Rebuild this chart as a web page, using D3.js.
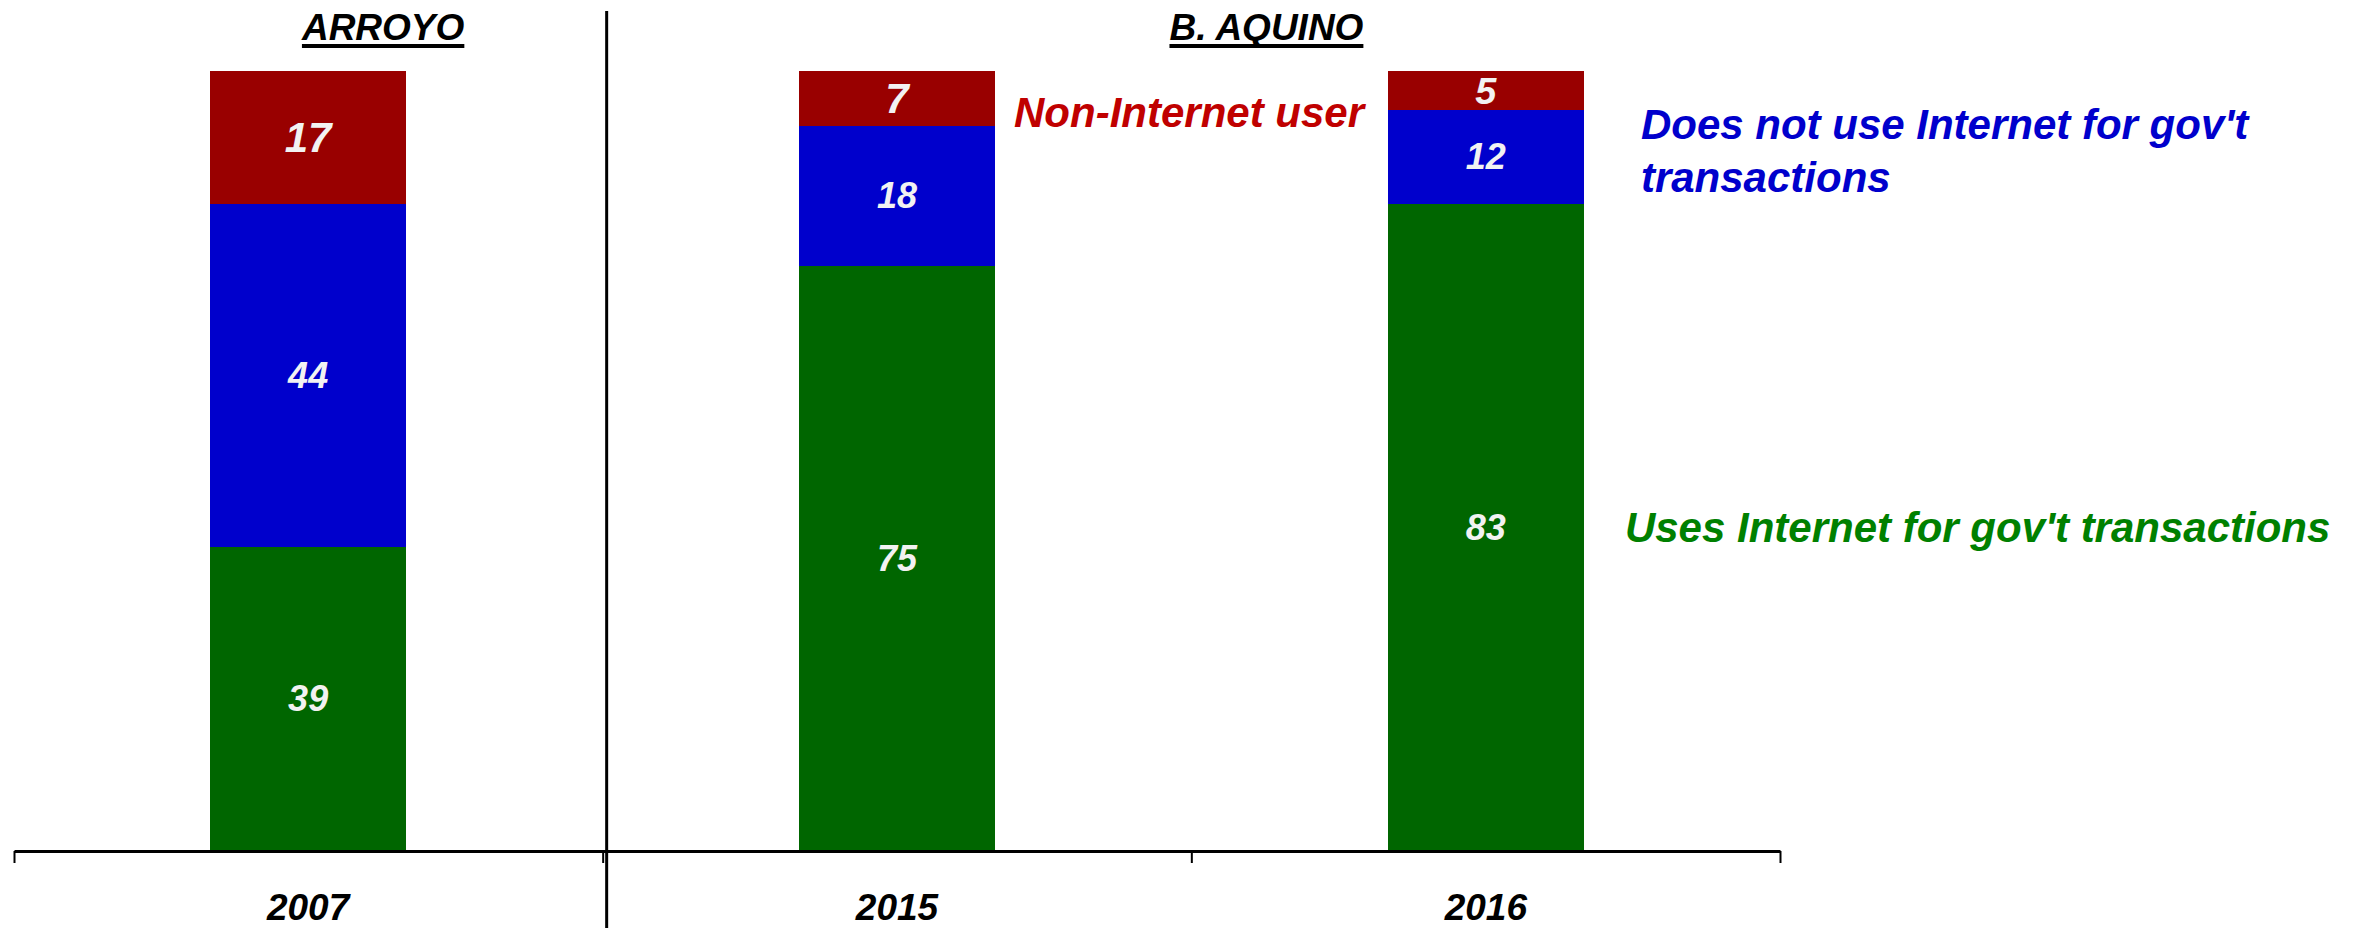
<!DOCTYPE html>
<html>
<head>
<meta charset="utf-8">
<script src="https://cdn.jsdelivr.net/npm/d3@7"></script>
<style>
  html, body { margin: 0; padding: 0; background: #fff; }
  svg text { font-family: "Liberation Sans", Arial, sans-serif; font-weight: bold; font-style: italic; }
</style>
</head>
<body>
<div id="chart"></div>
<script>
const years = ["2007", "2015", "2016"];
const presidentOf = ["ARROYO", "B. AQUINO", "B. AQUINO"];
const govUse = [39, 75, 83];
const noGovUse = [44, 18, 12];
const nonUser = [17, 7, 5];

const seriesKeys = ["govUse", "noGovUse", "nonUser"];
const seriesLabels = ["Uses Internet for gov't transactions", "Does not use Internet for gov't|transactions", "Non-Internet user"];
const barColors = ["#006600", "#0000CC", "#990000"];
const textColors = ["#008000", "#0000CC", "#C00000"];

const width = 2369;
const height = 928;

const rows = years.map((y, i) => ({
  year: y,
  president: presidentOf[i],
  govUse: govUse[i],
  noGovUse: noGovUse[i],
  nonUser: nonUser[i]
}));

const svg = d3.select("#chart")
  .append("svg")
  .attr("width", width)
  .attr("height", height);

const x = d3.scaleBand()
  .domain(years)
  .range([14, 1780])
  .paddingInner(0.667)
  .paddingOuter(0.333);

const y = d3.scaleLinear()
  .domain([0, 100])
  .range([851, 71]);

const stack = d3.stack().keys(seriesKeys)(rows);

// bars
const layer = svg.selectAll(".layer")
  .data(stack)
  .enter()
  .append("g")
  .attr("class", "layer")
  .attr("fill", (d, i) => barColors[i]);

layer.selectAll("rect")
  .data(d => d)
  .enter()
  .append("rect")
  .attr("x", d => x(d.data.year))
  .attr("y", d => y(d[1]))
  .attr("width", x.bandwidth())
  .attr("height", d => y(d[0]) - y(d[1]))
  .attr("shape-rendering", "crispEdges");

// value labels (top segment a bit larger, shrunk to fit thin segments)
layer.selectAll("text")
  .data(d => d.map(p => ({ p, key: d.key })))
  .enter()
  .append("text")
  .attr("x", d => x(d.p.data.year) + x.bandwidth() / 2)
  .attr("y", d => (y(d.p[0]) + y(d.p[1])) / 2)
  .attr("text-anchor", "middle")
  .attr("dominant-baseline", "central")
  .attr("fill", "#F2F2F2")
  .style("font-size", d => {
    if (d.key !== "nonUser") return "36px";
    const h = y(d.p[0]) - y(d.p[1]);
    return Math.min(42, h * 0.97) + "px";
  })
  .text(d => d.p.data[d.key]);

// x axis: ticks at category boundaries
const edge = d3.scaleLinear().domain([0, years.length]).range(x.range());
const axis = svg.append("g")
  .attr("transform", `translate(0,${y(0)})`)
  .call(d3.axisBottom(edge).tickValues(d3.range(years.length + 1)).tickSize(12).tickSizeOuter(0).tickFormat(""));
axis.select(".domain").attr("stroke", "#000").attr("stroke-width", 3);
axis.selectAll(".tick line").attr("stroke", "#000").attr("stroke-width", 2);

svg.selectAll(".year")
  .data(years)
  .enter()
  .append("text")
  .attr("class", "year")
  .attr("x", d => x(d) + x.bandwidth() / 2)
  .attr("y", 920)
  .attr("text-anchor", "middle")
  .attr("fill", "#000")
  .style("font-size", "37px")
  .text(d => d);

// divider between administrations
const divX = edge(presidentOf.indexOf("B. AQUINO")) + 4;
svg.append("line")
  .attr("x1", divX).attr("x2", divX)
  .attr("y1", 11).attr("y2", height)
  .attr("stroke", "#000")
  .attr("stroke-width", 3);

// administration titles
const presidents = Array.from(new Set(presidentOf));
presidents.forEach(p => {
  const ys = years.filter((yr, i) => presidentOf[i] === p);
  const cx = d3.mean(ys, yr => x(yr) + x.bandwidth() / 2) + 75;
  const t = svg.append("text")
    .attr("x", cx)
    .attr("y", 40)
    .attr("text-anchor", "middle")
    .attr("fill", "#000")
    .style("font-size", "37px")
    .text(p);
  const w = t.node().getComputedTextLength();
  svg.append("rect")
    .attr("x", cx - w / 2)
    .attr("y", 44)
    .attr("width", w)
    .attr("height", 4)
    .attr("fill", "#000");
});

// series labels
const last = years[years.length - 1];
const mid = years[1];
// Non-Internet user, beside the 2015 bar
svg.append("text")
  .attr("x", x(mid) + x.bandwidth() + 19)
  .attr("y", y(100) + 56)
  .attr("fill", textColors[2])
  .style("font-size", "42px")
  .text(seriesLabels[2]);

// Does not use..., beside the 2016 bar
const blueText = svg.append("text")
  .attr("x", x(last) + x.bandwidth() + 57)
  .attr("y", 139)
  .attr("fill", textColors[1])
  .style("font-size", "42px");
seriesLabels[1].split("|").forEach((line, i) => {
  blueText.append("tspan")
    .attr("x", x(last) + x.bandwidth() + 57)
    .attr("dy", i === 0 ? 0 : 53)
    .text(line);
});

// Uses Internet..., beside the 2016 green segment
const lastRow = rows[rows.length - 1];
svg.append("text")
  .attr("x", x(last) + x.bandwidth() + 41)
  .attr("y", (y(0) + y(lastRow.govUse)) / 2)
  .attr("dominant-baseline", "central")
  .attr("fill", textColors[0])
  .style("font-size", "42px")
  .text(seriesLabels[0]);
</script>
</body>
</html>
